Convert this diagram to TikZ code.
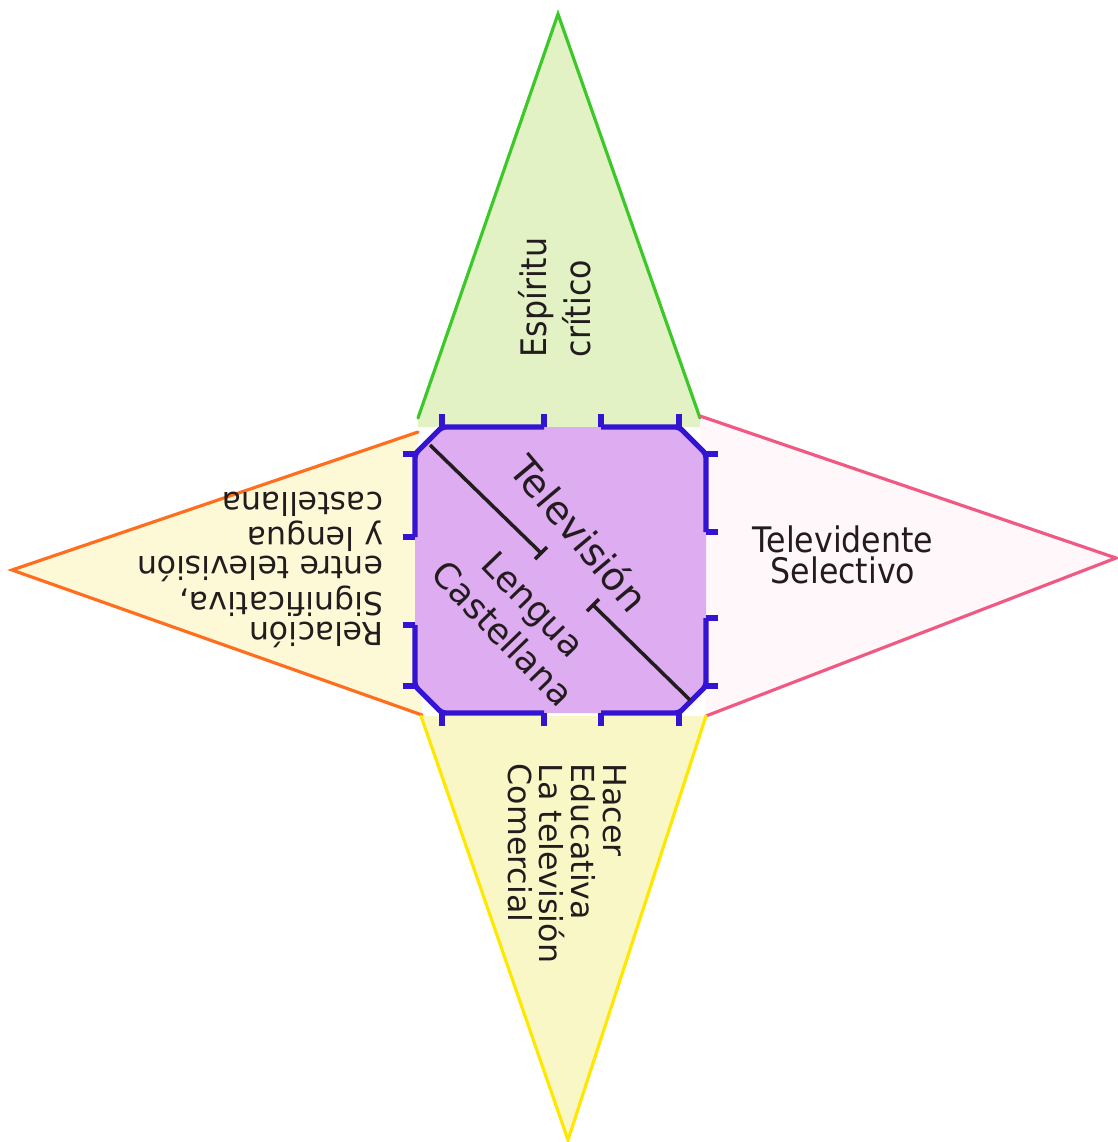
\documentclass[tikz,border=0pt]{standalone}
\usepackage{fontspec}
\setmainfont{DejaVu Sans}
\newfontfamily\narrowhand[FakeStretch=0.9]{DejaVu Sans}
\usetikzlibrary{calc}
\definecolor{ink}{RGB}{35,28,30}
\definecolor{edgegreen}{RGB}{60,200,40}
\definecolor{edgeorange}{RGB}{255,110,30}
\definecolor{edgepink}{RGB}{240,90,130}
\definecolor{edgeyellow}{RGB}{255,232,0}
\definecolor{cutblue}{RGB}{50,20,210}
\definecolor{basefill}{RGB}{222,172,240}
\definecolor{greenface}{RGB}{226,242,196}
\definecolor{leftface}{RGB}{253,248,214}
\definecolor{rightface}{RGB}{255,247,250}
\definecolor{lowface}{RGB}{250,247,198}

\tikzset{
  rim/.style={line width=0.9pt, line cap=round},
  cutline/.style={draw=cutblue, line width=1.5pt, rounded corners=1pt, line join=round},
  tick/.style={draw=cutblue, line width=1.5pt},
  diag/.style={draw=ink, line width=1pt},
  lbl/.style={inner sep=0pt, text=ink, align=left},
}

\begin{document}
\begin{tikzpicture}[x=0.01cm, y=-0.01cm]
  \useasboundingbox (0,0) rectangle (1118,1142);

  % faces of the net
  \fill[greenface] (418,427) -- (418,418) -- (558,14) -- (700,418) -- (706,427) -- cycle;
  \fill[leftface] (12,570) -- (418,432) -- (422,715) -- cycle;
  \fill[rightface] (1116,558) -- (700,416) -- (706,716) -- cycle;
  \fill[lowface] (568,1140) -- (421,716) -- (706,716) -- cycle;
  \draw[rim, edgegreen] (418,418) -- (558,14) -- (700,418);
  \draw[rim, edgeorange] (418,432) -- (12,570) -- (422,715);
  \draw[rim, edgepink] (700,416) -- (1116,558) -- (706,716);
  \draw[rim, edgeyellow] (421,716) -- (568,1140) -- (706,716);

  % base square
  \fill[basefill] (442,427) -- (679,427) -- (706,454) -- (706,686) -- (679,713)
    -- (442,713) -- (415,686) -- (415,454) -- cycle;
  \draw[cutline] (544,427) -- (442,427) -- (415,454) -- (415,537);
  \draw[cutline] (601,427) -- (679,427) -- (706,454) -- (706,532);
  \draw[cutline] (706,618) -- (706,686) -- (679,713) -- (601,713);
  \draw[cutline] (544,713) -- (442,713) -- (415,686) -- (415,625);
  \foreach \x in {442,544,601,679} {
    \draw[tick] (\x,427) -- (\x,414);
    \draw[tick] (\x,713) -- (\x,726);
  }
  \foreach \y in {454,537,625,686} \draw[tick] (415,\y) -- (403,\y);
  \foreach \y in {454,532,618,686} \draw[tick] (706,\y) -- (718,\y);

  % diagonal fold
  \coordinate (dA) at (430,445);
  \coordinate (dB) at (541,553);
  \coordinate (dC) at (593,605);
  \coordinate (dD) at (690,700);
  \draw[diag] (dA) -- (dB);
  \draw[diag] (dC) -- (dD);
  \draw[diag] (535,559) -- (547,547);
  \draw[diag] (587,611) -- (599,599);

  % labels
  \node[lbl, rotate=-50, font=\fontsize{11}{13}\selectfont] (tele) at (580,533) {Televisión};
  \node[lbl, align=center, rotate=-46, font=\fontsize{10}{12}\selectfont] (lengua) at (518,619) {Lengua\\Castellana};
  \node[lbl, rotate=90, anchor=west, font=\narrowhand\fontsize{10}{12.5}\selectfont] (critico) at (555,358) {Espíritu\\crítico};
  \node[lbl, rotate=180, anchor=west, font=\fontsize{9}{8.5}\selectfont] (relacion) at (384,570) {Relación\\Significativa,\\entre televisión\\y lengua\\castellana};
  \node[lbl, align=center, font=\narrowhand\fontsize{10}{9}\selectfont] (selectivo) at (843,555) {Televidente\\Selectivo};
  \node[lbl, rotate=-90, anchor=west, font=\fontsize{9}{9}\selectfont] (hacer) at (567,763) {Hacer\\Educativa\\La televisión\\Comercial};
\end{tikzpicture}
\end{document}
